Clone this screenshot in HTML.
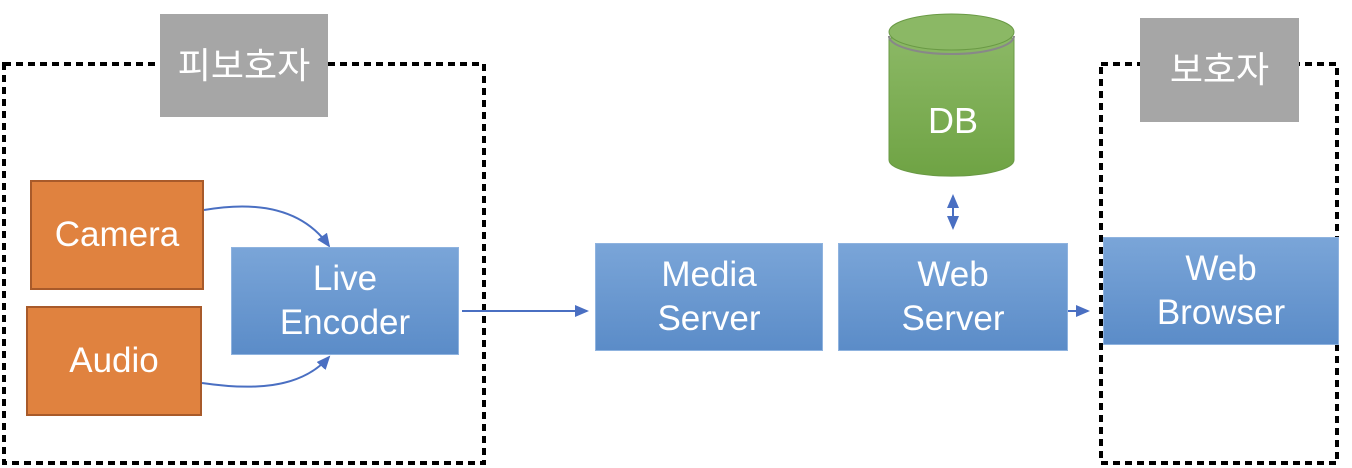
<!DOCTYPE html>
<html><head><meta charset="utf-8"><style>
body{margin:0;width:1352px;height:468px;background:#fff;overflow:hidden;position:relative;font-family:"Liberation Sans","Noto Sans CJK KR",sans-serif}
.b{position:absolute;box-sizing:border-box;color:#fff;display:flex;align-items:center;justify-content:center;text-align:center;line-height:44px}
.o{background:#e0823f;border:2px solid #a85a2a;font-size:35px}
.bl{background:linear-gradient(#7aa5d8,#5b8cc8);border:1px solid #8fb3df;font-size:35px}
.g{background:#a6a6a6;font-size:36px}
</style></head><body>
<svg width="1352" height="468" style="position:absolute;left:0;top:0">
<defs>
<marker id="a" markerWidth="14" markerHeight="12" refX="12" refY="6" orient="auto" markerUnits="userSpaceOnUse"><path d="M0,0L14,6L0,12z" fill="#4a6fc2"/></marker>
<marker id="s" markerWidth="14" markerHeight="12" refX="2" refY="6" orient="auto" markerUnits="userSpaceOnUse"><path d="M14,0L0,6L14,12z" fill="#4a6fc2"/></marker>
<linearGradient id="gr" x1="0" y1="0" x2="0" y2="1"><stop offset="0" stop-color="#8bb865"/><stop offset="1" stop-color="#6fa344"/></linearGradient>
</defs>
<rect x="4" y="64" width="480" height="399" fill="none" stroke="#000" stroke-width="4" stroke-dasharray="7,5"/>
<rect x="1101" y="64" width="236" height="399" fill="none" stroke="#000" stroke-width="4" stroke-dasharray="7,5"/>
<path d="M204,210 C250,202 300,205 329,246" fill="none" stroke="#4a6fc2" stroke-width="2" marker-end="url(#a)"/>
<path d="M202,383 C250,390 300,390 329,357" fill="none" stroke="#4a6fc2" stroke-width="2" marker-end="url(#a)"/>
<line x1="462" y1="311" x2="587" y2="311" stroke="#4a6fc2" stroke-width="2" marker-end="url(#a)"/>
<line x1="1054" y1="311" x2="1088" y2="311" stroke="#4a6fc2" stroke-width="2" marker-end="url(#a)"/>
<line x1="953" y1="196" x2="953" y2="228" stroke="#4a6fc2" stroke-width="2" marker-end="url(#a)" marker-start="url(#s)"/>
<path d="M889,38 L889,160 A62,16 0 0 0 1014,160 L1014,38 z" fill="url(#gr)" stroke="#6a9a45"/>
<ellipse cx="951.5" cy="32" rx="62.5" ry="18" fill="#8bb865" stroke="#6a9a45"/>
<path d="M889,36 A62.5,18 0 0 0 1014,36" fill="none" stroke="#888" stroke-width="2"/>
<text x="953" y="133" fill="#fff" font-size="36" text-anchor="middle" font-family="Liberation Sans,sans-serif">DB</text>
</svg>
<div class="b g" style="left:160px;top:14px;width:168px;height:103px">피보호자</div>
<div class="b g" style="left:1140px;top:18px;width:159px;height:104px">보호자</div>
<div class="b o" style="left:30px;top:180px;width:174px;height:110px">Camera</div>
<div class="b o" style="left:26px;top:306px;width:176px;height:110px">Audio</div>
<div class="b bl" style="left:231px;top:247px;width:228px;height:108px">Live<br>Encoder</div>
<div class="b bl" style="left:595px;top:243px;width:228px;height:108px">Media<br>Server</div>
<div class="b bl" style="left:838px;top:243px;width:230px;height:108px">Web<br>Server</div>
<div class="b bl" style="left:1103px;top:237px;width:236px;height:108px">Web<br>Browser</div>
</body></html>
